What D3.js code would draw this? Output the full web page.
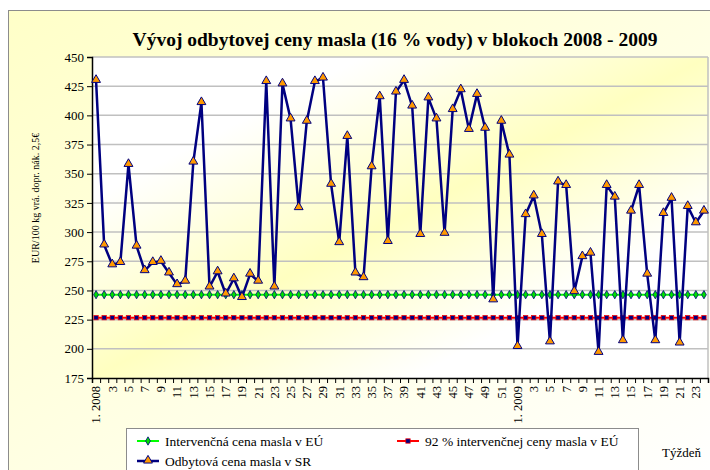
<!DOCTYPE html>
<html>
<head>
<meta charset="utf-8">
<script src="https://cdn.jsdelivr.net/npm/d3@7"></script>
<style>
  html, body { margin: 0; padding: 0; background: #fff; }
  svg { display: block; }
  svg text { font-family: "Liberation Serif", "Times New Roman", serif; }
</style>
</head>
<body>
<svg id="chart" width="710" height="470"></svg>
<script>
// ---------- data ----------
const weeks2008 = d3.range(1, 53).map(w => w === 1 ? "1. 2008" : String(w));
const weeks2009 = d3.range(1, 25).map(w => w === 1 ? "1. 2009" : String(w));
const categories = weeks2008.concat(weeks2009);

const salePrice = [
  430, 289, 272, 274, 358, 288, 267, 274, 275, 265, 255, 258, 360, 411, 253, 266, 247, 260, 244, 264,
  258, 429, 253, 427, 397, 321, 395, 429, 432, 341, 291, 382, 265, 261, 356, 416, 292, 420, 430, 408,
  298, 415, 397, 299, 405, 422, 388, 418, 389, 242, 395, 366,
  202, 315, 331, 298, 206, 343, 340, 249, 279, 282, 197, 340, 330, 207, 318, 340, 264, 207, 316, 329,
  205, 322, 308, 318
];
const interventionPrice = categories.map(() => 246.39);
const interventionPrice92 = categories.map(() => 226.68);

const yTicks = [175, 200, 225, 250, 275, 300, 325, 350, 375, 400, 425, 450];

const titleText = "Vývoj odbytovej ceny masla (16 % vody) v blokoch  2008 - 2009";
const yTitle = "EUR/100 kg vrá. dopr. nák. 2,5€";
const xTitle = "Týždeň";
const seriesNames = ["Intervenčná cena masla v EÚ", "92 % intervenčnej ceny masla v EÚ", "Odbytová cena masla v SR"];

// ---------- layout ----------
const FONT = "'Liberation Serif', 'Times New Roman', serif";
const svg = d3.select("#chart");
const W = 710, H = 470;
const plot = { left: 92, right: 708, top: 57, bottom: 378 };

const defs = svg.append("defs");
const g1 = defs.append("linearGradient").attr("id", "outerGrad")
  .attr("x1", "0").attr("y1", "0").attr("x2", "1").attr("y2", "1");
g1.append("stop").attr("offset", "0%").attr("stop-color", "#FFFFC8");
g1.append("stop").attr("offset", "55%").attr("stop-color", "#FFFFE6");
g1.append("stop").attr("offset", "100%").attr("stop-color", "#FFFFFF");

const g2 = defs.append("linearGradient").attr("id", "plotGrad")
  .attr("x1", "0").attr("y1", "0").attr("x2", "1").attr("y2", "1");
g2.append("stop").attr("offset", "0%").attr("stop-color", "#FFFFFF");
g2.append("stop").attr("offset", "22%").attr("stop-color", "#FFFFFF");
g2.append("stop").attr("offset", "50%").attr("stop-color", "#FFFFC0");
g2.append("stop").attr("offset", "76%").attr("stop-color", "#FFFFFF");
g2.append("stop").attr("offset", "100%").attr("stop-color", "#FFFFFF");

// chart area background
svg.append("rect").attr("x", 8.5).attr("y", 10.5).attr("width", W).attr("height", H)
  .attr("fill", "url(#outerGrad)").attr("stroke", "#8c8c8c").attr("stroke-width", 1);

// plot area
svg.append("rect").attr("x", plot.left).attr("y", plot.top)
  .attr("width", plot.right - plot.left).attr("height", plot.bottom - plot.top)
  .attr("fill", "url(#plotGrad)");

// scales
const x = d3.scaleBand().domain(d3.range(categories.length)).range([plot.left, plot.right]).padding(0);
const xEdge = d3.scaleLinear().domain([0, categories.length]).range([plot.left, plot.right]);
const y = d3.scaleLinear().domain([175, 450]).range([plot.bottom, plot.top]);
const cx = i => x(i) + x.bandwidth() / 2;

// gridlines
svg.append("g").selectAll("line").data(yTicks.filter(t => t > 175)).join("line")
  .attr("x1", plot.left).attr("x2", plot.right)
  .attr("y1", d => y(d)).attr("y2", d => y(d))
  .attr("stroke", "#c0c0c0").attr("stroke-width", 1.5);

// right border of plot
svg.append("line").attr("x1", plot.right).attr("x2", plot.right)
  .attr("y1", plot.top).attr("y2", plot.bottom).attr("stroke", "#c0c0c0").attr("stroke-width", 1.5);

// y axis
const yAxis = svg.append("g").attr("transform", `translate(${plot.left},0)`)
  .call(d3.axisLeft(y).tickValues(yTicks).tickSize(5).tickPadding(3).tickFormat(d3.format("d")));
yAxis.attr("font-family", null);
yAxis.select(".domain").attr("stroke", "#000").attr("stroke-width", 1.5);
yAxis.selectAll(".tick line").attr("stroke", "#000");
yAxis.selectAll(".tick text").style("font-size", "13px").style("font-family", FONT).attr("fill", "#000");

// x axis ticks at category boundaries
const xTickAxis = svg.append("g").attr("transform", `translate(0,${plot.bottom})`)
  .call(d3.axisBottom(xEdge).tickValues(d3.range(categories.length + 1)).tickSize(5).tickFormat(""));
xTickAxis.select(".domain").attr("stroke", "#000").attr("stroke-width", 1.5);
xTickAxis.selectAll(".tick line").attr("stroke", "#000");

// x labels
const xLabAxis = svg.append("g").attr("transform", `translate(0,${plot.bottom})`)
  .call(d3.axisBottom(x).tickSize(0).tickFormat(i => i % 2 === 0 ? categories[i] : ""));
xLabAxis.attr("font-family", null);
xLabAxis.select(".domain").remove();
xLabAxis.selectAll(".tick text")
  .style("font-size", "12.5px").style("font-family", FONT).attr("fill", "#000")
  .attr("transform", "rotate(-90)")
  .attr("text-anchor", "end")
  .attr("x", -8).attr("y", 0).attr("dy", "0.35em");

// lines
const lineGen = d3.line().x((d, i) => cx(i)).y(d => y(d));

svg.append("path").datum(interventionPrice).attr("d", lineGen)
  .attr("fill", "none").attr("stroke", "#00FF00").attr("stroke-width", 2);
svg.append("path").datum(interventionPrice92).attr("d", lineGen)
  .attr("fill", "none").attr("stroke", "#FF0000").attr("stroke-width", 2);

svg.append("g").selectAll("path").data(interventionPrice).join("path")
  .attr("d", d3.symbol(d3.symbolDiamond, 20)())
  .attr("transform", (d, i) => `translate(${cx(i)},${y(d)})`)
  .attr("fill", "#00DD00").attr("stroke", "#000080").attr("stroke-width", 0.8);
svg.append("g").selectAll("rect").data(interventionPrice92).join("rect")
  .attr("x", (d, i) => cx(i) - 2.2).attr("y", d => y(d) - 2.2)
  .attr("width", 4.4).attr("height", 4.4)
  .attr("fill", "#000080").attr("stroke", "#FF0000").attr("stroke-width", 0.7);

svg.append("path").datum(salePrice).attr("d", lineGen)
  .attr("fill", "none").attr("stroke", "#000080").attr("stroke-width", 2.5)
  .attr("stroke-linejoin", "round");
svg.append("g").selectAll("path").data(salePrice).join("path")
  .attr("d", d3.symbol(d3.symbolTriangle, 34)())
  .attr("transform", (d, i) => `translate(${cx(i)},${y(d) - 0.5})`)
  .attr("fill", "#FF9900").attr("stroke", "#000080").attr("stroke-width", 1);

// title
svg.append("text").attr("x", 395).attr("y", 46).attr("text-anchor", "middle")
  .style("font-size", "19.5px").style("font-weight", "bold").attr("fill", "#000").text(titleText);

// y title
svg.append("text").attr("transform", "translate(39,198) rotate(-90)")
  .attr("text-anchor", "middle").style("font-size", "10px").attr("fill", "#000").text(yTitle);

// x title
svg.append("text").attr("x", 662).attr("y", 457).style("font-size", "13px").attr("fill", "#000").text(xTitle);

// legend
const lg = svg.append("g");
lg.append("rect").attr("x", 126.5).attr("y", 428.5).attr("width", 512).attr("height", 60)
  .attr("fill", "#fff").attr("stroke", "#8c8c8c").attr("stroke-width", 1);

const legendItems = [
  { name: seriesNames[0], x: 137, y: 441, color: "#00FF00", type: "diamond" },
  { name: seriesNames[1], x: 397, y: 441, color: "#FF0000", type: "square" },
  { name: seriesNames[2], x: 137, y: 461, color: "#000080", type: "triangle" }
];
legendItems.forEach(it => {
  const g = lg.append("g").attr("transform", `translate(${it.x},${it.y})`);
  g.append("line").attr("x1", 0).attr("x2", 22).attr("y1", 0).attr("y2", 0)
    .attr("stroke", it.color).attr("stroke-width", it.type === "triangle" ? 2.5 : 2);
  if (it.type === "diamond") {
    g.append("path").attr("d", d3.symbol(d3.symbolDiamond, 20)()).attr("transform", "translate(11,0)")
      .attr("fill", "#00DD00").attr("stroke", "#000080").attr("stroke-width", 0.8);
  } else if (it.type === "square") {
    g.append("rect").attr("x", 8.8).attr("y", -2.2).attr("width", 4.4).attr("height", 4.4)
      .attr("fill", "#000080").attr("stroke", "#FF0000").attr("stroke-width", 0.7);
  } else {
    g.append("path").attr("d", d3.symbol(d3.symbolTriangle, 34)()).attr("transform", "translate(11,-0.5)")
      .attr("fill", "#FF9900").attr("stroke", "#000080").attr("stroke-width", 1);
  }
  g.append("text").attr("x", 28).attr("y", 0).attr("dy", "0.35em")
    .style("font-size", "13.5px").attr("fill", "#000").text(it.name);
});
</script>
</body>
</html>
